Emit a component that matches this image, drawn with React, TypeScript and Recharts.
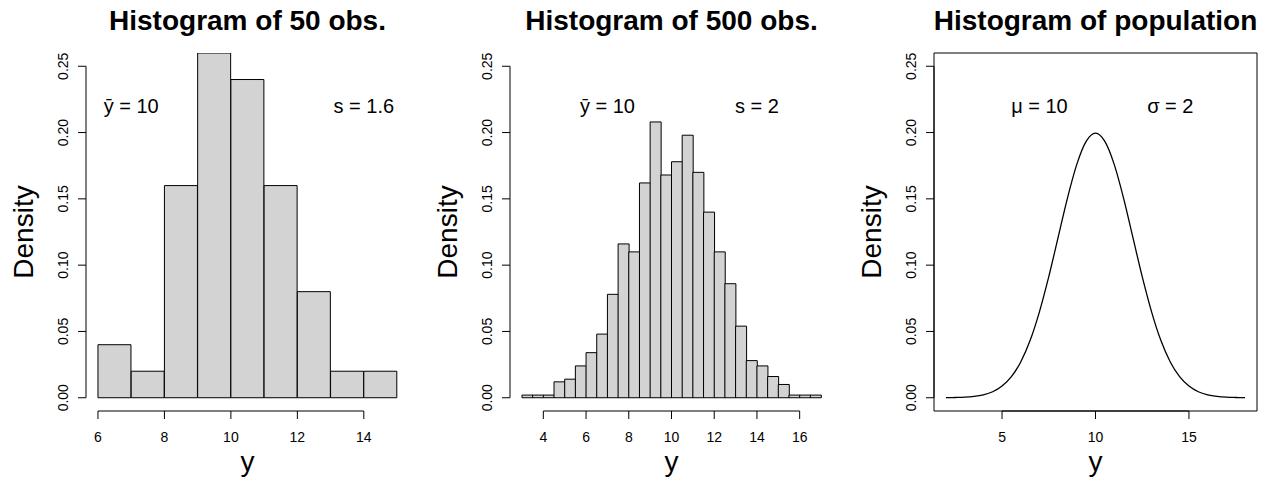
import React from 'react';
import {
  Bar,
  ComposedChart,
  Line,
  ReferenceArea,
  ReferenceDot,
  ReferenceLine,
  XAxis,
  YAxis,
} from 'recharts';

// 50 obs., bins of width 1 from 6 to 15
const mids50 = [6.5, 7.5, 8.5, 9.5, 10.5, 11.5, 12.5, 13.5, 14.5];
const dens50 = [0.04, 0.02, 0.16, 0.26, 0.24, 0.16, 0.08, 0.02, 0.02];

// 500 obs., bins of width 0.5 from 3 to 17
const mids500 = [
  3.25, 3.75, 4.25, 4.75, 5.25, 5.75, 6.25, 6.75, 7.25, 7.75, 8.25, 8.75, 9.25, 9.75,
  10.25, 10.75, 11.25, 11.75, 12.25, 12.75, 13.25, 13.75, 14.25, 14.75, 15.25, 15.75,
  16.25, 16.75,
];
const dens500 = [
  0.002, 0.002, 0.002, 0.012, 0.014, 0.024, 0.034, 0.048, 0.078, 0.116, 0.11, 0.162,
  0.208, 0.168, 0.178, 0.198, 0.17, 0.14, 0.11, 0.086, 0.054, 0.028, 0.024, 0.016,
  0.01, 0.002, 0.002, 0.002,
];

// population curve
const popX = [
  2, 2.5, 3, 3.5, 4, 4.5, 5, 5.5, 6, 6.5, 7, 7.5, 8, 8.5, 9, 9.5, 10, 10.5, 11, 11.5,
  12, 12.5, 13, 13.5, 14, 14.5, 15, 15.5, 16, 16.5, 17, 17.5, 18,
];
const popY = [
  0.0001, 0.0002, 0.0004, 0.001, 0.0022, 0.0045, 0.0088, 0.0159, 0.027, 0.0431, 0.0648,
  0.0913, 0.121, 0.1506, 0.176, 0.1933, 0.1995, 0.1933, 0.176, 0.1506, 0.121, 0.0913,
  0.0648, 0.0431, 0.027, 0.0159, 0.0088, 0.0045, 0.0022, 0.001, 0.0004, 0.0002, 0.0001,
];

const yTicks = [0, 0.05, 0.1, 0.15, 0.2, 0.25];
const ticks50 = [6, 8, 10, 12, 14];
const ticks500 = [4, 6, 8, 10, 12, 14, 16];
const ticksPop = [5, 10, 15];

const FONT = '"Liberation Sans", Arial, Helvetica, sans-serif';
const W = 423;
const H = 480;
const PLOT_LEFT = 86;
const PLOT_RIGHT = 14;
const PLOT_TOP = 53;
const X_AXIS_H = 69;
const Y_DOMAIN: [number, number] = [-0.01, 0.26];

const hist50 = mids50.map((x, i) => ({ x, d: dens50[i] }));
const hist500 = mids500.map((x, i) => ({ x, d: dens500[i] }));
const pop = popX.map((x, i) => ({ x, d: popY[i] }));

const XTick = (props: any) => (
  <text
    x={props.x}
    y={props.y + 21}
    textAnchor='middle'
    fontSize={14}
    fontFamily={FONT}
    fill='#000'
  >
    {props.payload.value}
  </text>
);

const YTick = (props: any) => {
  const x = props.x - 8;
  return (
    <text
      x={x}
      y={props.y}
      transform={`rotate(-90, ${x}, ${props.y})`}
      textAnchor='middle'
      fontSize={14}
      fontFamily={FONT}
      fill='#000'
    >
      {Number(props.payload.value).toFixed(2)}
    </text>
  );
};

const note = (label: React.ReactNode) => (p: any) => (
  <text
    x={p.cx}
    y={p.cy + 7}
    textAnchor='middle'
    fontSize={20}
    fontFamily={FONT}
    fill='#000'
  >
    {label}
  </text>
);

type PanelProps = {
  title: string;
  xDomain: [number, number];
  xTicks: number[];
  data: { x: number; d: number }[];
  kind: 'hist' | 'line';
  notes: [string, string];
};

function Panel({ title, xDomain, xTicks, data, kind, notes }: PanelProps) {
  const cx = PLOT_LEFT + (W - PLOT_LEFT - PLOT_RIGHT) / 2;
  const cy = PLOT_TOP + (H - PLOT_TOP - X_AXIS_H) / 2;
  return (
    <ComposedChart
      width={W}
      height={H}
      data={data}
      margin={{ top: PLOT_TOP, right: PLOT_RIGHT, bottom: 0, left: 0 }}
      barCategoryGap={0}
      barGap={0}
    >
      <XAxis
        dataKey='x'
        type='number'
        domain={xDomain}
        allowDataOverflow
        ticks={xTicks}
        interval={0}
        height={X_AXIS_H}
        axisLine={false}
        tickLine={{ stroke: '#000' }}
        tickSize={8}
        tick={<XTick />}
      />
      <YAxis
        type='number'
        domain={Y_DOMAIN}
        allowDataOverflow
        ticks={yTicks}
        interval={0}
        width={PLOT_LEFT}
        axisLine={false}
        tickLine={{ stroke: '#000' }}
        tickSize={8}
        tick={<YTick />}
      />
      {kind === 'hist' ? (
        <Bar
          dataKey='d'
          fill='#d3d3d3'
          stroke='#000'
          strokeWidth={1}
          isAnimationActive={false}
        />
      ) : (
        <Line
          dataKey='d'
          type='monotone'
          stroke='#000'
          strokeWidth={1.3}
          dot={false}
          isAnimationActive={false}
        />
      )}
      {kind === 'line' && (
        <ReferenceArea
          x1={xDomain[0]}
          x2={xDomain[1]}
          y1={Y_DOMAIN[0]}
          y2={Y_DOMAIN[1]}
          fill='none'
          fillOpacity={0}
          stroke='#000'
          strokeWidth={1}
          ifOverflow='visible'
        />
      )}
      <ReferenceLine
        segment={[
          { x: xTicks[0], y: Y_DOMAIN[0] },
          { x: xTicks[xTicks.length - 1], y: Y_DOMAIN[0] },
        ]}
        stroke='#000'
        strokeWidth={1}
        ifOverflow='visible'
      />
      <ReferenceLine
        segment={[
          { x: xDomain[0], y: yTicks[0] },
          { x: xDomain[0], y: yTicks[yTicks.length - 1] },
        ]}
        stroke='#000'
        strokeWidth={1}
        ifOverflow='visible'
      />
      <ReferenceDot x={7} y={0.22} r={0} ifOverflow='visible' shape={note(notes[0])} />
      <ReferenceDot x={14} y={0.22} r={0} ifOverflow='visible' shape={note(notes[1])} />
      <text
        x={cx}
        y={30}
        textAnchor='middle'
        fontSize={28}
        fontWeight='bold'
        fontFamily={FONT}
        fill='#000'
      >
        {title}
      </text>
      <text
        x={33}
        y={cy}
        transform={`rotate(-90, 33, ${cy})`}
        textAnchor='middle'
        fontSize={28}
        fontFamily={FONT}
        fill='#000'
      >
        Density
      </text>
      <text
        x={cx}
        y={471}
        textAnchor='middle'
        fontSize={28}
        fontFamily={FONT}
        fill='#000'
      >
        y
      </text>
    </ComposedChart>
  );
}

export default function App() {
  return (
    <div
      style={{
        position: 'absolute',
        left: 0,
        top: 0,
        width: 1270,
        height: H,
        background: '#fff',
      }}
    >
      <div style={{ position: 'absolute', left: 0, top: 0 }}>
        <Panel
          title='Histogram of 50 obs.'
          xDomain={[5.64, 15.36]}
          xTicks={ticks50}
          data={hist50}
          kind='hist'
          notes={['ȳ = 10', 's = 1.6']}
        />
      </div>
      <div style={{ position: 'absolute', left: 424, top: 0 }}>
        <Panel
          title='Histogram of 500 obs.'
          xDomain={[2.44, 17.56]}
          xTicks={ticks500}
          data={hist500}
          kind='hist'
          notes={['ȳ = 10', 's = 2']}
        />
      </div>
      <div style={{ position: 'absolute', left: 848, top: 0 }}>
        <Panel
          title='Histogram of population'
          xDomain={[1.36, 18.64]}
          xTicks={ticksPop}
          data={pop}
          kind='line'
          notes={['μ = 10', 'σ = 2']}
        />
      </div>
    </div>
  );
}
